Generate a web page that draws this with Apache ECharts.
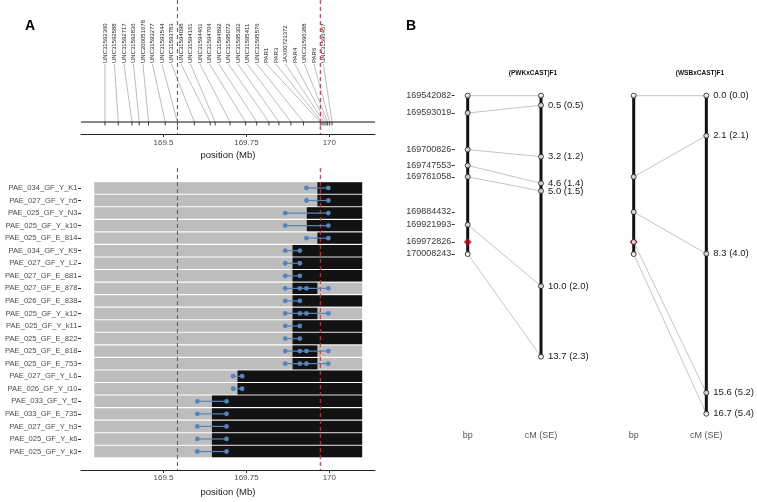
<!DOCTYPE html>
<html>
<head>
<meta charset="utf-8">
<script src="https://cdn.jsdelivr.net/npm/echarts@6/dist/echarts.min.js"></script>
<style>
  html, body { margin: 0; padding: 0; background: #fff; }
  #chart { width: 757px; height: 502px; }
</style>
</head>
<body>
<div id="chart"></div>
<script>
// ---- panel A: markers over the interval (Mb)
const markerNames = [
  'UNC31592360', 'UNC31592588', 'UNC31592717', 'UNC31592836', 'UNC200051678',
  'UNC31593277', 'UNC31593544', 'UNC31593783', 'UNC31594098', 'UNC31594161',
  'UNC31594461', 'UNC31594704', 'UNC31594892', 'UNC31595072', 'UNC31595302',
  'UNC31595411', 'UNC31595576', 'PAR1', 'PAR3', 'JAX00723372', 'PAR4',
  'UNC31596388', 'PAR6', 'UNC31596457'
];
const markerPosMb = [
  169.3235, 169.3636, 169.4048, 169.4268, 169.4548,
  169.5051, 169.5421, 169.5930, 169.6407, 169.6557,
  169.7008, 169.7476, 169.7811, 169.8180, 169.8480,
  169.8844, 169.9220, 169.9728, 169.9780, 169.9840, 169.9900,
  169.9950, 170.0010, 170.0082
];
const candidateMb = [169.542082, 169.972826];
const xTicksMb = [169.5, 169.75, 170];

// ---- panel A: recombinant lines
const sampleNames = [
  'PAE_034_GF_Y_K1', 'PAE_027_GF_Y_h5', 'PAE_025_GF_Y_N3', 'PAE_025_GF_Y_k10',
  'PAE_025_GF_E_814', 'PAE_034_GF_Y_K9', 'PAE_027_GF_Y_L2', 'PAE_027_GF_E_881',
  'PAE_027_GF_E_878', 'PAE_026_GF_E_838', 'PAE_025_GF_Y_k12', 'PAE_025_GF_Y_k11',
  'PAE_025_GF_E_822', 'PAE_025_GF_E_818', 'PAE_025_GF_E_753', 'PAE_027_GF_Y_L6',
  'PAE_026_GF_Y_i10', 'PAE_033_GF_Y_f2', 'PAE_033_GF_E_735', 'PAE_027_GF_Y_h3',
  'PAE_025_GF_Y_k6', 'PAE_025_GF_Y_k3'
];
const regionStartMb = 169.291;
const regionEndMb = 170.099;
const castStartMb = [
  169.964, 169.964, 169.932, 169.932, 169.964, 169.889, 169.889, 169.889,
  169.889, 169.889, 169.889, 169.889, 169.889, 169.889, 169.889, 169.723,
  169.723, 169.646, 169.646, 169.646, 169.646, 169.646
];
const castEndMb = [
  170.099, 170.099, 170.099, 170.099, 170.099, 170.099, 170.099, 170.099,
  169.964, 170.099, 169.964, 170.099, 170.099, 169.964, 169.964, 170.099,
  170.099, 170.099, 170.099, 170.099, 170.099, 170.099
];
const breakPointsMb = [
  [169.931, 169.997], [169.931, 169.997], [169.867, 169.997], [169.867, 169.997],
  [169.931, 169.997], [169.867, 169.911], [169.867, 169.911], [169.867, 169.911],
  [169.867, 169.911, 169.931, 169.997], [169.867, 169.911],
  [169.867, 169.911, 169.931, 169.997], [169.867, 169.911], [169.867, 169.911],
  [169.867, 169.911, 169.931, 169.997], [169.867, 169.911, 169.931, 169.997],
  [169.710, 169.737], [169.710, 169.737],
  [169.602, 169.690], [169.602, 169.690], [169.602, 169.690], [169.602, 169.690],
  [169.602, 169.690]
];

// ---- panel B: physical vs genetic maps
const bpTicks = [169542082, 169593019, 169700826, 169747553, 169781058,
                 169884432, 169921993, 169972826, 170008243];
const candidateBp = 169972826;
const pwkBp = [169542082, 169593019, 169700826, 169747553, 169781058, 169921993, 170008243];
const pwkCm = [0.0, 0.5, 3.2, 4.6, 5.0, 10.0, 13.7];
const pwkSe = [0.0, 0.5, 1.2, 1.4, 1.5, 2.0, 2.3];
const wsbBp = [169542082, 169781058, 169884432, 169972826, 170008243];
const wsbCm = [0.0, 2.1, 8.3, 15.6, 16.7];
const wsbSe = [0.0, 2.1, 4.0, 5.2, 5.4];

const FONT = '"Liberation Sans", Arial, Helvetica, sans-serif';
const RED = '#cc3344';
const BLUE = '#5584bd';
const X_MIN = 169.2512, X_MAX = 170.1377;
const BP_MIN = 169525300, BP_MAX = 170497000;
const CM_MIN = -0.30, CM_MAX = 17.03;

// labels are spread evenly along the top, like a repel layout
const labelFirst = markerPosMb[0], labelLast = 169.982;
const labelPos = markerNames.map((_, i) =>
  labelFirst + i * (labelLast - labelFirst) / (markerNames.length - 1));

const chart = echarts.init(document.getElementById('chart'), null, { renderer: 'canvas' });

function mbAxis(gridIndex, nameGap, margin) {
  return {
    type: 'value', gridIndex: gridIndex, min: X_MIN, max: X_MAX,
    axisLine: { show: true, onZero: false, lineStyle: { color: '#222', width: 1 } },
    axisTick: { show: true, customValues: xTicksMb, length: 3, lineStyle: { color: '#333' } },
    axisLabel: { customValues: xTicksMb, fontSize: 8, color: '#4d4d4d', margin: margin, fontFamily: FONT },
    splitLine: { show: false },
    name: 'position (Mb)', nameLocation: 'middle', nameGap: nameGap,
    nameTextStyle: { fontSize: 9.5, color: '#1a1a1a', fontFamily: FONT }
  };
}

function candidateLines(xi, yi, y0) {
  return {
    type: 'custom', xAxisIndex: xi, yAxisIndex: yi, silent: true, z: 5,
    data: candidateMb.map(v => [v, y0]),
    renderItem(params, api) {
      const cs = params.coordSys;
      const x = api.coord([api.value(0), api.value(1)])[0];
      return {
        type: 'line',
        shape: { x1: x, y1: cs.y, x2: x, y2: cs.y + cs.height },
        style: { stroke: RED, lineWidth: 1.1, lineDash: [4, 3] }
      };
    }
  };
}

function cmToBp(c) {
  return BP_MIN + (c - CM_MIN) / (CM_MAX - CM_MIN) * (BP_MAX - BP_MIN);
}

function connectors(xi, yi, bps, cms) {
  return {
    type: 'custom', xAxisIndex: xi, yAxisIndex: yi, silent: true, clip: false,
    data: bps.map((b, i) => [b, cms[i]]),
    renderItem(params, api) {
      const a = api.coord([0, api.value(0)]);
      const b = api.coord([1, cmToBp(api.value(1))]);
      return {
        type: 'line', shape: { x1: a[0], y1: a[1], x2: b[0], y2: b[1] },
        style: { stroke: '#b5b5b5', lineWidth: 0.8 }
      };
    }
  };
}

function stick(xi, yi, x, y0, y1) {
  return {
    type: 'line', xAxisIndex: xi, yAxisIndex: yi, clip: false, silent: true,
    symbol: 'none', data: [[x, y0], [x, y1]],
    lineStyle: { color: '#111', width: 3 }
  };
}

function dots(xi, yi, pts) {
  return {
    type: 'scatter', xAxisIndex: xi, yAxisIndex: yi, clip: false, silent: true,
    symbol: 'circle', symbolSize: 5, z: 4, data: pts,
    itemStyle: { color: '#fff', borderColor: '#111', borderWidth: 1 }
  };
}

function cmAxis(gridIndex, cms, ses) {
  return {
    type: 'value', gridIndex: gridIndex, position: 'right', inverse: true,
    min: CM_MIN, max: CM_MAX,
    axisLine: { show: false }, axisTick: { show: false }, splitLine: { show: false },
    axisLabel: {
      customValues: cms, margin: 7, fontSize: 9.5, color: '#1a1a1a', fontFamily: FONT,
      formatter: v => {
        const i = cms.indexOf(v);
        return v.toFixed(1) + ' (' + ses[i].toFixed(1) + ')';
      }
    }
  };
}

function colAxis(gridIndex) {
  return {
    type: 'value', gridIndex: gridIndex, min: 0, max: 1,
    axisLine: { show: false, onZero: false }, axisTick: { show: false }, splitLine: { show: false },
    axisLabel: {
      customValues: [0, 1], margin: 11, fontSize: 9, color: '#555', fontFamily: FONT,
      formatter: v => (v === 0 ? 'bp' : 'cM (SE)')
    }
  };
}

const option = {
  animation: false,
  textStyle: { fontFamily: FONT },
  grid: [
    { left: 81, width: 294, top: 0, height: 134 },
    { left: 81, width: 294, top: 168, height: 308 },
    { left: 467.7, width: 73.3, top: 90, height: 330 },
    { left: 633.7, width: 73.3, top: 90, height: 330 }
  ],
  xAxis: [
    mbAxis(0, 16, 5),
    mbAxis(1, 14, 4),
    colAxis(2),
    colAxis(3)
  ],
  yAxis: [
    { type: 'value', gridIndex: 0, min: 0, max: 134, inverse: true, show: false },
    {
      type: 'value', gridIndex: 1, min: -1.59, max: 22.48, inverse: true,
      axisLine: { show: false, onZero: false }, splitLine: { show: false },
      axisTick: { show: true, customValues: sampleNames.map((_, i) => i), length: 3, lineStyle: { color: '#333' } },
      axisLabel: {
        customValues: sampleNames.map((_, i) => i), margin: 3.5, fontSize: 7.6,
        color: '#4d4d4d', fontFamily: FONT, formatter: v => sampleNames[Math.round(v)]
      }
    },
    {
      type: 'value', gridIndex: 2, inverse: true, min: BP_MIN, max: BP_MAX, offset: 13,
      axisLine: { show: false, onZero: false }, splitLine: { show: false },
      axisTick: { show: true, customValues: bpTicks, length: 3, lineStyle: { color: '#333' } },
      axisLabel: { customValues: bpTicks, margin: 3.5, fontSize: 9, color: '#3a3a3a', fontFamily: FONT, formatter: v => String(v) }
    },
    cmAxis(2, pwkCm, pwkSe),
    { type: 'value', gridIndex: 3, inverse: true, min: BP_MIN, max: BP_MAX, show: false },
    cmAxis(3, wsbCm, wsbSe)
  ],
  graphic: [
    { type: 'text', x: 25, y: 19, style: { text: 'A', fontSize: 14, fontWeight: 'bold', fill: '#000', fontFamily: FONT } },
    { type: 'text', x: 406, y: 19, style: { text: 'B', fontSize: 14, fontWeight: 'bold', fill: '#000', fontFamily: FONT } },
    { type: 'text', x: 533, y: 73, style: { text: '(PWKxCAST)F1', fontSize: 6.5, fontWeight: 'bold', fill: '#111', align: 'center', verticalAlign: 'middle', fontFamily: FONT } },
    { type: 'text', x: 700, y: 73, style: { text: '(WSBxCAST)F1', fontSize: 6.5, fontWeight: 'bold', fill: '#111', align: 'center', verticalAlign: 'middle', fontFamily: FONT } }
  ],
  series: [
    // marker row line
    {
      type: 'line', xAxisIndex: 0, yAxisIndex: 0, symbol: 'none', silent: true,
      data: [[X_MIN, 122], [X_MAX, 122]], lineStyle: { color: '#111', width: 1 }
    },
    // marker ticks, leader segments and rotated names
    {
      type: 'custom', xAxisIndex: 0, yAxisIndex: 0, silent: true,
      data: markerNames.map((_, i) => [markerPosMb[i], labelPos[i], i]),
      renderItem(params, api) {
        const i = api.value(2);
        const tick = api.coord([api.value(0), 122]);
        const lab = api.coord([api.value(1), 63]);
        return {
          type: 'group',
          children: [
            { type: 'line', shape: { x1: lab[0], y1: lab[1] + 1, x2: tick[0], y2: tick[1] }, style: { stroke: '#a0a0a0', lineWidth: 0.7 } },
            { type: 'line', shape: { x1: tick[0], y1: tick[1], x2: tick[0], y2: tick[1] + 3.5 }, style: { stroke: '#111', lineWidth: 0.8 } },
            {
              type: 'text', x: lab[0], y: lab[1], rotation: Math.PI / 2,
              style: { text: markerNames[i], fontSize: 6, fill: '#222', align: 'left', verticalAlign: 'middle', fontFamily: FONT }
            }
          ]
        };
      }
    },
    candidateLines(0, 0, 10),
    // genotype bars
    {
      type: 'custom', xAxisIndex: 1, yAxisIndex: 1, silent: true,
      data: sampleNames.map((_, i) => [i, castStartMb[i], castEndMb[i]]),
      encode: { x: [1, 2], y: 0 },
      renderItem(params, api) {
        const i = api.value(0);
        const h = Math.abs(api.size([0, 0.91])[1]);
        const g0 = api.coord([regionStartMb, i]);
        const g1 = api.coord([regionEndMb, i]);
        const b0 = api.coord([api.value(1), i]);
        const b1 = api.coord([api.value(2), i]);
        return {
          type: 'group',
          children: [
            { type: 'rect', shape: { x: g0[0], y: g0[1] - h / 2, width: g1[0] - g0[0], height: h }, style: { fill: '#bdbdbd' } },
            { type: 'rect', shape: { x: b0[0], y: b0[1] - h / 2, width: b1[0] - b0[0], height: h }, style: { fill: '#121212' } }
          ]
        };
      }
    },
    candidateLines(1, 1, 0),
    // breakpoint intervals
    {
      type: 'custom', xAxisIndex: 1, yAxisIndex: 1, silent: true, z: 6,
      data: breakPointsMb.map((p, i) => [i, Math.min(...p), Math.max(...p)]),
      encode: { x: [1, 2], y: 0 },
      renderItem(params, api) {
        const i = api.value(0);
        const a = api.coord([api.value(1), i]);
        const b = api.coord([api.value(2), i]);
        const children = [
          { type: 'line', shape: { x1: a[0], y1: a[1], x2: b[0], y2: b[1] }, style: { stroke: BLUE, lineWidth: 1.2 } }
        ];
        breakPointsMb[i].forEach(v => {
          const c = api.coord([v, i]);
          children.push({ type: 'circle', shape: { cx: c[0], cy: c[1], r: 2.4 }, style: { fill: BLUE } });
        });
        return { type: 'group', children: children };
      }
    },
    // panel B, (PWKxCAST)F1
    connectors(2, 2, pwkBp, pwkCm),
    stick(2, 2, 0, bpTicks[0], bpTicks[bpTicks.length - 1]),
    stick(2, 3, 1, pwkCm[0], pwkCm[pwkCm.length - 1]),
    {
      type: 'scatter', xAxisIndex: 2, yAxisIndex: 2, clip: false, silent: true, z: 4,
      symbol: 'diamond', symbolSize: 8, data: [[0, candidateBp]], itemStyle: { color: '#c00018' }
    },
    dots(2, 2, pwkBp.map(b => [0, b])),
    dots(2, 3, pwkCm.map(c => [1, c])),
    // panel B, (WSBxCAST)F1
    connectors(3, 4, wsbBp, wsbCm),
    stick(3, 4, 0, bpTicks[0], bpTicks[bpTicks.length - 1]),
    stick(3, 5, 1, wsbCm[0], wsbCm[wsbCm.length - 1]),
    {
      type: 'scatter', xAxisIndex: 3, yAxisIndex: 4, clip: false, silent: true, z: 3,
      symbol: 'diamond', symbolSize: 8, data: [[0, candidateBp]], itemStyle: { color: '#c00018' }
    },
    dots(3, 4, wsbBp.map(b => [0, b])),
    dots(3, 5, wsbCm.map(c => [1, c]))
  ]
};

chart.setOption(option);
</script>
</body>
</html>
